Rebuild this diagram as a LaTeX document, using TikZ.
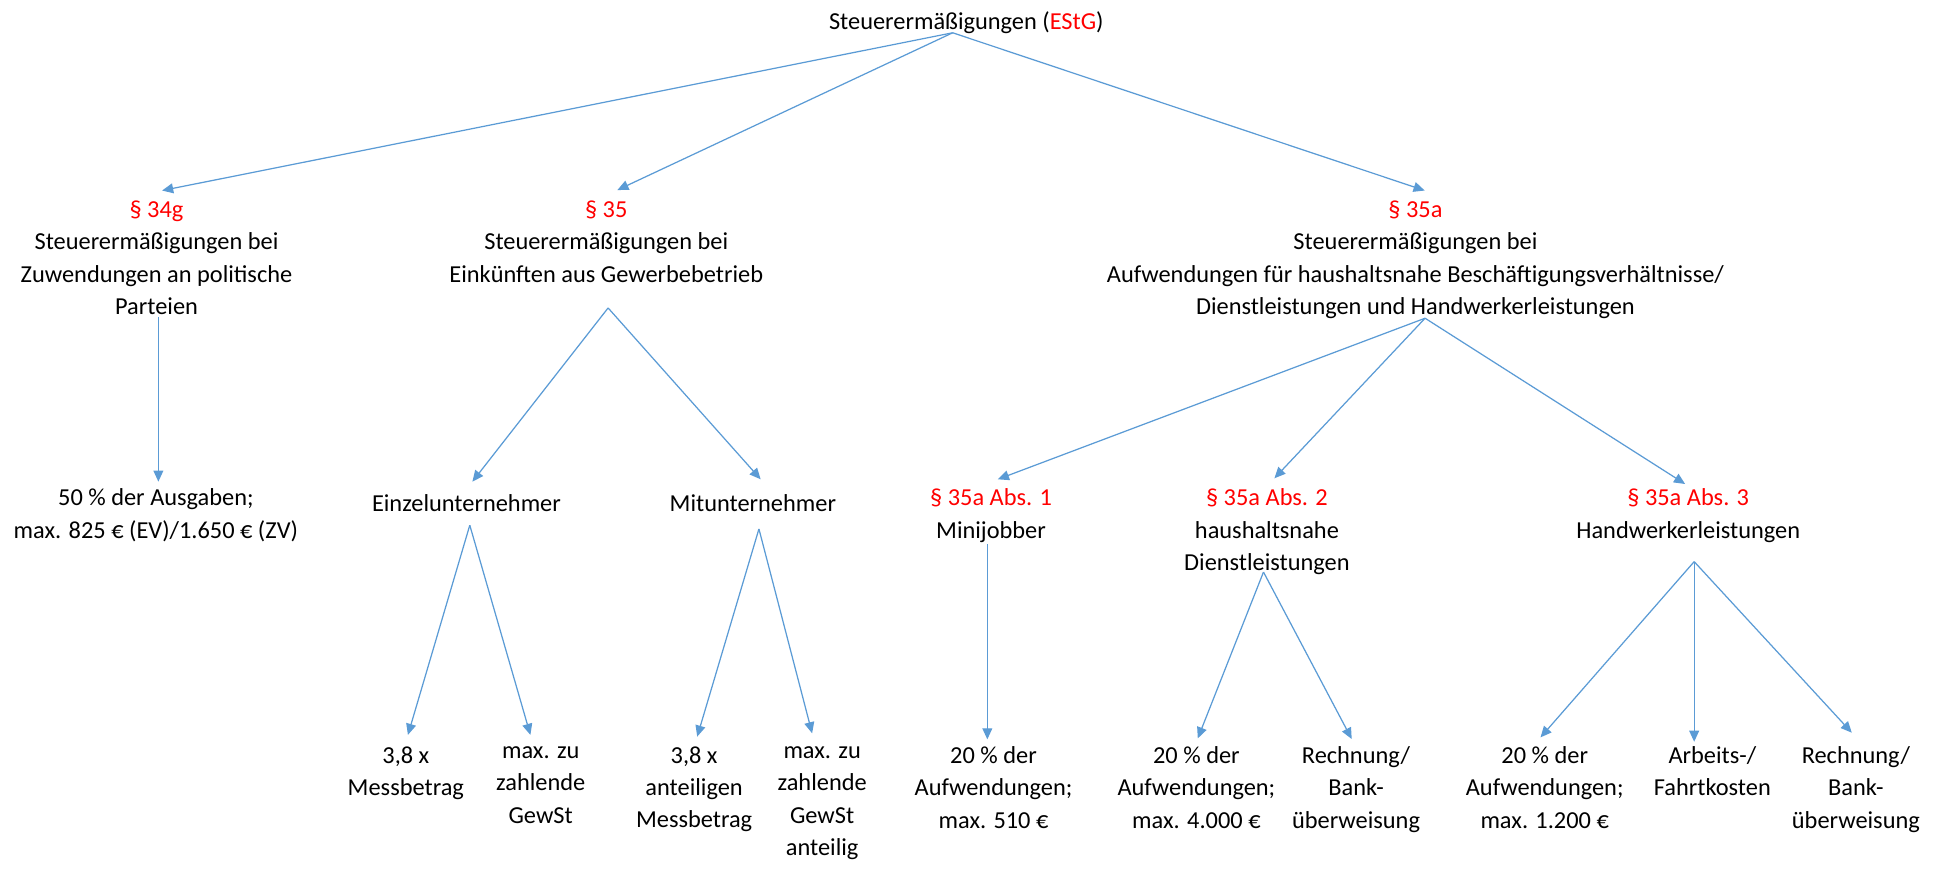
\documentclass[tikz,border=0pt]{standalone}
\usepackage{fontspec}
\setmainfont{Carlito}
\usetikzlibrary{arrows.meta}
\definecolor{conn}{RGB}{91,155,213}
\definecolor{para}{RGB}{255,0,0}
\newcommand{\para}[1]{\textcolor{para}{#1}}
\begin{document}
\begin{tikzpicture}[x=1pt,y=-1pt,
  txt/.style={anchor=north, align=center, inner sep=0pt, outer sep=0pt,
    font=\fontsize{19.7}{26.2}\selectfont,
    execute at begin node=\strut, execute at end node=\strut},
  arr/.style={draw=conn, line width=1pt, -{Triangle[length=9pt,width=8pt]}}]
\useasboundingbox (0,0) rectangle (1568,706);

% root
\node[txt] (top) at (781,5.2) {Steuerermäßigungen (\para{EStG})};

% first level
\node[txt] (g34) at (126.5,162.3) {\para{§ 34g}\\Steuerermäßigungen bei\\Zuwendungen an politische\\Parteien};
\node[txt] (g35) at (490,162.3) {\para{§ 35}\\Steuerermäßigungen bei\\Einkünften aus Gewerbebetrieb};
\node[txt] (g35a) at (1144,162.3) {\para{§ 35a}\\Steuerermäßigungen bei\\Aufwendungen für haushaltsnahe Beschäftigungsverhältnisse/\\Dienstleistungen und Handwerkerleistungen};

% second level
\node[txt] (l34) at (126,395.1) {50 \% der Ausgaben;\\max. 825 € (EV)/1.650 € (ZV)};
\node[txt] (ein) at (377,395.1) {Einzelunternehmer};
\node[txt] (mit) at (608.5,395.1) {Mitunternehmer};
\node[txt] (abs1) at (801,395.1) {\para{§ 35a Abs. 1}\\Minijobber};
\node[txt] (abs2) at (1024,395.1) {\para{§ 35a Abs. 2}\\haushaltsnahe\\Dienstleistungen};
\node[txt] (abs3) at (1364.5,395.1) {\para{§ 35a Abs. 3}\\Handwerkerleistungen};

% third level
\node[txt] (b1) at (328,603.3) {3,8 x\\Messbetrag};
\node[txt] (b2) at (437,603.3) {max. zu\\zahlende\\GewSt};
\node[txt] (b3) at (561,603.3) {3,8 x\\anteiligen\\Messbetrag};
\node[txt] (b4) at (664.5,603.3) {max. zu\\zahlende\\GewSt\\anteilig};
\node[txt] (b5) at (803,603.3) {20 \% der\\Aufwendungen;\\max. 510 €};
\node[txt] (b6) at (967,603.3) {20 \% der\\Aufwendungen;\\max. 4.000 €};
\node[txt] (b7) at (1096,603.3) {Rechnung/\\Bank-\\überweisung};
\node[txt] (b8) at (1248.5,603.3) {20 \% der\\Aufwendungen;\\max. 1.200 €};
\node[txt] (b9) at (1384,603.3) {Arbeits-/\\Fahrtkosten};
\node[txt] (b10) at (1500,603.3) {Rechnung/\\Bank-\\überweisung};

% branching points below the parent texts
\coordinate (topA) at ([shift={(-11,-4.9)}]top.south);
\coordinate (g35A) at ([shift={(1.5,12.9)}]g35.south);
\coordinate (g35aA) at ([shift={(7.8,-5)}]g35a.south);
\coordinate (einA) at ([shift={(2.7,3.2)}]ein.south);
\coordinate (mitA) at ([shift={(4.9,6.2)}]mit.south);
\coordinate (abs2A) at ([shift={(-2.8,-6.7)}]abs2.south);
\coordinate (abs3A) at ([shift={(4.8,11.1)}]abs3.south);

% connectors
\draw[arr] (topA) -- ([shift={(4.5,-8.3)}]g34.north);
\draw[arr] (topA) -- ([shift={(9,-8.7)}]g35.north);
\draw[arr] (topA) -- ([shift={(7.5,-8.3)}]g35a.north);

\draw[arr] ([shift={(1.5,-6)}]g34.south) -- ([shift={(2,-5.8)}]l34.north);
\draw[arr] (g35A) -- ([shift={(4.8,-5.8)}]ein.north);
\draw[arr] (g35A) -- ([shift={(6.3,-7.7)}]mit.north);
\draw[arr] (g35aA) -- ([shift={(5.5,-7.7)}]abs1.north);
\draw[arr] (g35aA) -- ([shift={(6,-8.5)}]abs2.north);
\draw[arr] (g35aA) -- ([shift={(-2.5,-3.9)}]abs3.north);

\draw[arr] (einA) -- ([shift={(1.7,-9.3)}]b1.north);
\draw[arr] (einA) -- ([shift={(-8.3,-9.3)}]b2.north);
\draw[arr] (mitA) -- ([shift={(2.5,-7.9)}]b3.north);
\draw[arr] (mitA) -- ([shift={(-8.1,-10.6)}]b4.north);
\draw[arr] ([shift={(-3,-2.9)}]abs1.south) -- ([shift={(-5,-5.7)}]b5.north);
\draw[arr] (abs2A) -- ([shift={(1.1,-6.5)}]b6.north);
\draw[arr] (abs2A) -- ([shift={(-3.5,-6)}]b7.north);
\draw[arr] (abs3A) -- ([shift={(-3.4,-7.3)}]b8.north);
\draw[arr] (abs3A) -- ([shift={(-14.7,-3.8)}]b9.north);
\draw[arr] (abs3A) -- ([shift={(-3.3,-11.1)}]b10.north);
\end{tikzpicture}
\end{document}
